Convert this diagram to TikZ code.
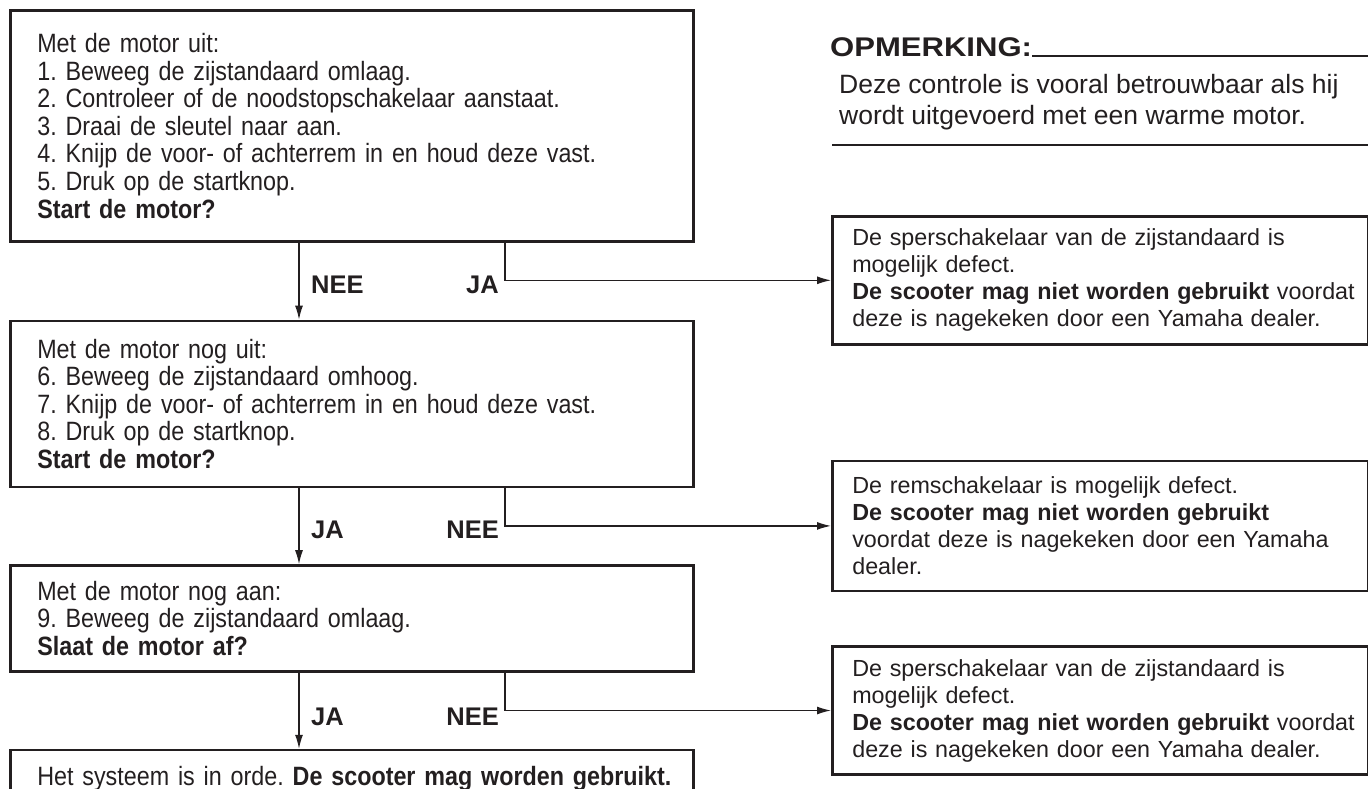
\documentclass[tikz,border=0pt]{standalone}
\usepackage{fontspec}
\setmainfont{Liberation Sans}
\newfontfamily\narrowfont[FakeStretch=0.88]{Liberation Sans}
\newfontfamily\widefont[FakeStretch=1.15]{Liberation Sans}
\usepackage{tikz}
\usetikzlibrary{arrows.meta, positioning, calc}
\definecolor{inkgray}{HTML}{231F20}
\frenchspacing

\begin{document}
\begin{tikzpicture}[
			x=1pt, y=1pt,
			color=inkgray,
			stepbox/.style={rectangle, draw, line width=2.6pt, text width=629pt,
				inner xsep=27pt, inner ysep=0pt, align=left,
				font=\narrowfont\fontsize{26.5}{27.6}\selectfont},
			faultbox/.style={rectangle, draw, line width=2.6pt, text width=496pt,
				inner xsep=20pt, inner ysep=0pt, align=left, minimum height=128pt,
				font=\fontsize{23.3}{27}\selectfont},
			answer/.style={font=\fontsize{25.5}{25.5}\selectfont\bfseries, inner sep=0pt},
			arr/.style={-{Latex[length=14pt, width=8pt]}, line width=1.3pt},
			link/.style={line width=1.3pt},
			]
			\useasboundingbox (0,0) rectangle (1368,-788);
			
			% Check steps
			\node[stepbox, minimum height=231pt, anchor=north west] (check1) at (9,-9)
			{Met de motor uit:\\
				1. Beweeg de zijstandaard omlaag.\\
				2. Controleer of de noodstopschakelaar aanstaat.\\
				3. Draai de sleutel naar aan.\\
				4. Knijp de voor- of achterrem in en houd deze vast.\\
				5. Druk op de startknop.\\
				\textbf{Start de motor?}};
			\node[stepbox, minimum height=166pt, below=77pt of check1] (check2)
			{Met de motor nog uit:\\
				6. Beweeg de zijstandaard omhoog.\\
				7. Knijp de voor- of achterrem in en houd deze vast.\\
				8. Druk op de startknop.\\
				\textbf{Start de motor?}};
			\node[stepbox, minimum height=106pt, below=76pt of check2] (check3)
			{Met de motor nog aan:\\
				9. Beweeg de zijstandaard omlaag.\\
				\textbf{Slaat de motor af?}};
			\node[stepbox, minimum height=58pt, below=76pt of check3] (check4)
			{\mbox{Het systeem is in orde. \textbf{De scooter mag worden gebruikt.}}};
			
			% Faults
			\node[faultbox, anchor=north west] (fault1) at (831,-215)
			{De sperschakelaar van de zijstandaard is\\
				mogelijk defect.\\
				\mbox{\textbf{De scooter mag niet worden gebruikt} voordat}\\
				deze is nagekeken door een Yamaha dealer.};
			\node[faultbox, minimum height=130pt, below=114pt of fault1] (fault2)
			{De remschakelaar is mogelijk defect.\\
				\textbf{De scooter mag niet worden gebruikt}\\
				voordat deze is nagekeken door een Yamaha\\
				dealer.};
			\node[faultbox, below=53pt of fault2] (fault3)
			{De sperschakelaar van de zijstandaard is\\
				mogelijk defect.\\
				\mbox{\textbf{De scooter mag niet worden gebruikt} voordat}\\
				deze is nagekeken door een Yamaha dealer.};
			
			% Note
			\node[font=\widefont\fontsize{27}{27}\selectfont\bfseries, inner sep=0pt, anchor=base west]
			(notehead) at (830,-56) {OPMERKING:};
			\node[font=\fontsize{26.5}{31}\selectfont, inner sep=0pt, align=left, anchor=north west]
			(notetext) at (839,-74) {Deze controle is vooral betrouwbaar als hij\\
				wordt uitgevoerd met een warme motor.};
			\coordinate (edge) at (1368,0);
			\draw[link] (notehead.base east) -- (notehead.base east -| edge);
			\draw[line width=1.8pt] (832,-145) -- (1368,-145);
			
			% Connectors
			\coordinate (down) at (299,0);
			\coordinate (side) at (505,0);
			\draw[arr] (check1.south -| down) -- (check2.north -| down);
			\draw[arr] (check2.south -| down) -- (check3.north -| down);
			\draw[arr] (check3.south -| down) -- (check4.north -| down);
			\draw[arr] (check1.south -| side) |- (fault1.west);
			\draw[arr] (check2.south -| side) |- (fault2.west);
			\draw[arr] (check3.south -| side) |- (fault3.west);
			
			% Answers
			\node[answer, anchor=west] (no1) at ($(check1.south -| down)+(12,-42)$) {NEE};
			\node[answer, anchor=east] (yes1) at ($(check1.south -| side)+(-6,-42)$) {JA};
			\node[answer, anchor=west] (yes2) at ($(check2.south -| down)+(12,-42)$) {JA};
			\node[answer, anchor=east] (no2) at ($(check2.south -| side)+(-6,-42)$) {NEE};
			\node[answer, anchor=west] (yes3) at ($(check3.south -| down)+(12,-44)$) {JA};
			\node[answer, anchor=east] (no3) at ($(check3.south -| side)+(-6,-44)$) {NEE};
		\end{tikzpicture}
\end{document}
